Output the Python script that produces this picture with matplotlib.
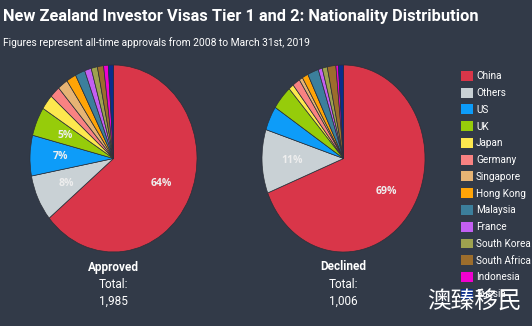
import matplotlib.pyplot as plt
from matplotlib.patches import Patch

countries = ["China", "Others", "US", "UK", "Japan", "Germany", "Singapore",
             "Hong Kong", "Malaysia", "France", "South Korea", "South Africa",
             "Indonesia", "Russia"]
approved = [64, 8, 7, 5, 2.6, 2.0, 2.0, 1.9, 1.9, 1.3, 1.2, 1.2, 0.9, 1.0]
declined = [69, 11, 4.2, 4.2, 1.0, 1.5, 0.7, 1.2, 2.2, 0.8, 1.0, 1.7, 0.5, 1.0]
colors = ["#d93649", "#c9d1d5", "#0d9cf9", "#96cc0a", "#fde84e", "#f98282",
          "#e6b474", "#ffa407", "#3c7f9c", "#c35ff2", "#9ea24f", "#9c6d2c",
          "#f000d0", "#0a2d8c"]
groups = ["Approved", "Declined"]
totals = ["1,985", "1,006"]

bg = "#323a48"
W, H = 532, 326
fig = plt.figure(figsize=(W / 100, H / 100), dpi=100, facecolor=bg)

def px_axes(x0, y0, x1, y1):
    return fig.add_axes([x0 / W, 1 - y1 / H, (x1 - x0) / W, (y1 - y0) / H])

def pct(v):
    return f"{v:.0f}%" if v >= 4.5 else ""

boxes = [(30, 65, 197, 252), (262, 65, 425, 252)]
for box, vals in zip(boxes, [approved, declined]):
    ax = px_axes(*box)
    w, _, autotexts = ax.pie(vals, colors=colors, startangle=90, counterclock=False,
                             autopct=lambda p: pct(p), pctdistance=0.63,
                             wedgeprops=dict(edgecolor="#2b2f38", linewidth=0.5))
    for t in autotexts:
        t.set_color("#eeeeee")
        t.set_fontsize(7.5)
        t.set_fontweight("bold")
        t.set_family("Open Sans")
    ax.set_aspect("auto")
    ax.set_xlim(-1.0, 1.0)
    ax.set_ylim(-1.0, 1.0)
    ax.set_facecolor(bg)

title_font = ["Liberation Sans Narrow", "Roboto"]
fig.text(3 / W, 1 - 17 / H, "New Zealand Investor Visas Tier 1 and 2: Nationality Distribution",
         color="white", fontsize=11.8, fontweight="bold", family=title_font,
         va="center", ha="left")
fig.text(3 / W, 1 - 43 / H, "Figures represent all-time approvals from 2008 to March 31st, 2019",
         color="white", fontsize=7.4, family=title_font, va="center", ha="left")

for cx, name, total in zip([113, 343], groups, totals):
    fig.text(cx / W, 1 - 267 / H, name, color="white", fontsize=8.5,
             fontweight="bold", family="Roboto", ha="center", va="center")
    fig.text(cx / W, 1 - 285 / H, "Total:", color="white", fontsize=8.5,
             family="Roboto", ha="center", va="center")
    fig.text(cx / W, 1 - 301 / H, total, color="white", fontsize=8.5,
             family="Roboto", ha="center", va="center")

handles = [Patch(facecolor=c, edgecolor="none") for c in colors]
fig.legend(handles, countries, loc="upper left", bbox_to_anchor=(461 / W, 1 - 71 / H),
           frameon=False, labelcolor="white", handlelength=1.15,
           handleheight=1.15, handletextpad=0.35, labelspacing=0.64,
           borderpad=0, borderaxespad=0, prop={"family": "Roboto", "size": 7.2})

# watermark sits over the last legend row
fig.text(474 / W, 1 - 302 / H, "澳臻移民", color="white", fontsize=17,
         family=["Noto Sans CJK SC", "DejaVu Sans"], ha="center", va="center",
         zorder=10)

fig.savefig("out.png", dpi=100, facecolor=bg)
